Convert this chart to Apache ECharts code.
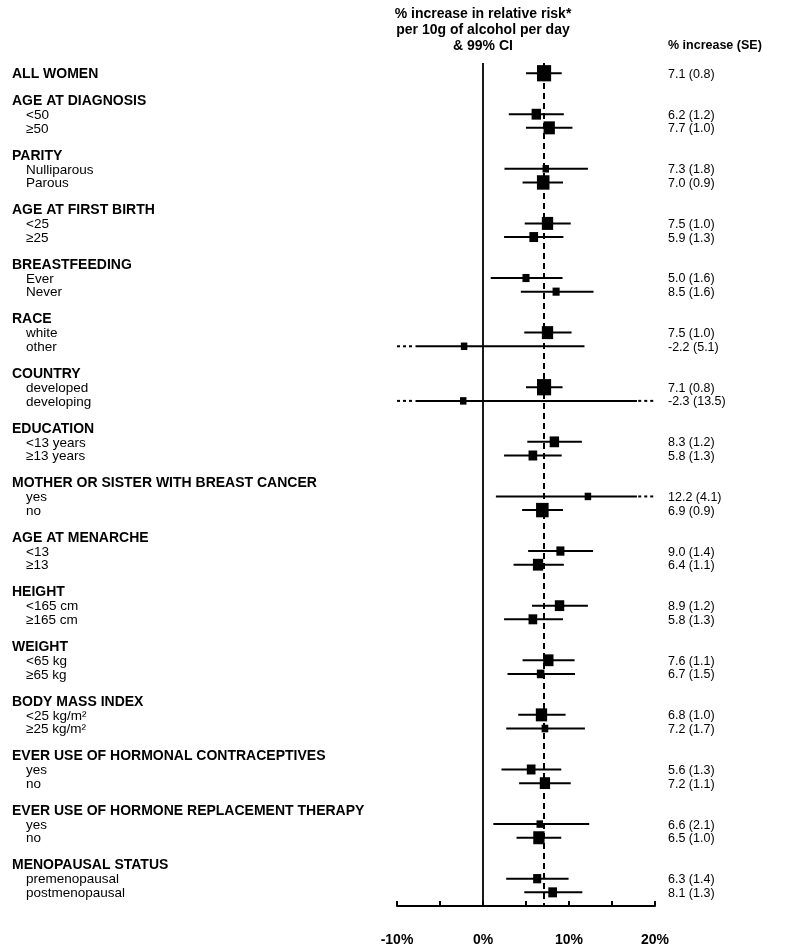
<!DOCTYPE html>
<html><head><meta charset="utf-8">
<script src="https://cdn.jsdelivr.net/npm/echarts@6/dist/echarts.min.js"></script>
<style>html,body{margin:0;padding:0;background:#fff}#c{width:788px;height:947px}</style>
</head><body><div id="c"></div>
<script>
const overallLabel = 'ALL WOMEN';
const groupNames = ['AGE AT DIAGNOSIS','PARITY','AGE AT FIRST BIRTH','BREASTFEEDING','RACE','COUNTRY','EDUCATION','MOTHER OR SISTER WITH BREAST CANCER','AGE AT MENARCHE','HEIGHT','WEIGHT','BODY MASS INDEX','EVER USE OF HORMONAL CONTRACEPTIVES','EVER USE OF HORMONE REPLACEMENT THERAPY','MENOPAUSAL STATUS'];
const subLabels = [['<50','≥50'],['Nulliparous','Parous'],['<25','≥25'],['Ever','Never'],['white','other'],['developed','developing'],['<13 years','≥13 years'],['yes','no'],['<13','≥13'],['<165 cm','≥165 cm'],['<65 kg','≥65 kg'],['<25 kg/m²','≥25 kg/m²'],['yes','no'],['yes','no'],['premenopausal','postmenopausal']];
// first entry = ALL WOMEN, then the sub-rows in order
const estimates = [7.1, 6.2,7.7, 7.3,7.0, 7.5,5.9, 5.0,8.5, 7.5,-2.2, 7.1,-2.3, 8.3,5.8, 12.2,6.9, 9.0,6.4, 8.9,5.8, 7.6,6.7, 6.8,7.2, 5.6,7.2, 6.6,6.5, 6.3,8.1];
const standardErrors = [0.8, 1.2,1.0, 1.8,0.9, 1.0,1.3, 1.6,1.6, 1.0,5.1, 0.8,13.5, 1.2,1.3, 4.1,0.9, 1.4,1.1, 1.2,1.3, 1.1,1.5, 1.0,1.7, 1.3,1.1, 2.1,1.0, 1.4,1.3];
const ciLow  = [5.0, 3.0,5.0, 2.5,4.6, 4.85,2.45, 0.9,4.4, 4.8,-15.3, 5.0,-37.0, 5.15,2.45, 1.5,4.55, 5.25,3.55, 5.7,2.45, 4.6,2.85, 4.1,2.7, 2.15,4.2, 1.2,3.9, 2.7,4.8];
const ciHigh = [9.15, 9.4,10.4, 12.2,9.3, 10.2,9.35, 9.25,12.85, 10.3,11.8, 9.25,32.5, 11.5,9.15, 22.8,9.3, 12.8,9.4, 12.2,9.3, 10.65,10.7, 9.6,11.85, 9.1,10.2, 12.35,9.1, 9.95,11.55];
const xTickValues = [-10,-5,0,5,10,15,20];
const xTickLabels = ['-10%','','0%','','10%','','20%'];
const titleLines = ['% increase in relative risk*','per 10g of alcohol per day','& 99% CI'];
const columnHeader = '% increase (SE)';

const X_MIN = -10, X_MAX = 20;
const FONT = "'Liberation Sans', Arial, Helvetica, sans-serif";

// build row structure
const rows = [];
rows.push({row:0, label:overallLabel, type:'header', d:0});
let di = 1;
groupNames.forEach((g, gi) => {
  const base = 2 + 4 * gi;
  rows.push({row:base, label:g, type:'header', d:-1});
  subLabels[gi].forEach((s, si) => rows.push({row:base + 1 + si, label:s, type:'sub', d:di++}));
});
const dataRows = rows.filter(r => r.d >= 0);

const chart = echarts.init(document.getElementById('c'), null, {renderer:'canvas'});

function ciRender(params, api) {
  const lo = api.value(0), hi = api.value(1), y = api.value(2);
  const children = [];
  const sLo = lo < X_MIN ? X_MIN + 2.15 : lo;
  const sHi = hi > X_MAX ? X_MAX - 2.1 : hi;
  const p1 = api.coord([sLo, y]), p2 = api.coord([sHi, y]);
  children.push({type:'line', shape:{x1:p1[0], y1:p1[1], x2:p2[0], y2:p2[1]}, style:{stroke:'#000', lineWidth:2}});
  if (lo < X_MIN) {
    const a = api.coord([X_MIN, y]), b = api.coord([X_MIN + 1.95, y]);
    children.push({type:'line', shape:{x1:a[0], y1:a[1], x2:b[0], y2:b[1]}, style:{stroke:'#000', lineWidth:2, lineDash:[3,3]}});
  }
  if (hi > X_MAX) {
    const a = api.coord([X_MAX - 1.95, y]), b = api.coord([X_MAX, y]);
    children.push({type:'line', shape:{x1:a[0], y1:a[1], x2:b[0], y2:b[1]}, style:{stroke:'#000', lineWidth:2, lineDash:[3,3]}});
  }
  return {type:'group', children};
}

function labelRender(params, api) {
  const r = rows[params.dataIndex];
  const p = api.coord([X_MIN, r.row]);
  const isHeader = r.type === 'header';
  return {type:'text', style:{
    x: isHeader ? 12 : 26, y: p[1] + (isHeader ? 0.5 : 1),
    text: r.label, fill:'#000',
    font: (isHeader ? 'bold 14px ' : '13.5px ') + FONT,
    align:'left', verticalAlign:'middle'
  }};
}

function valueRender(params, api) {
  const r = dataRows[params.dataIndex];
  const p = api.coord([X_MIN, r.row]);
  return {type:'text', style:{
    x: 668, y: p[1] + 1,
    text: estimates[r.d].toFixed(1) + ' (' + standardErrors[r.d].toFixed(1) + ')',
    fill:'#000', font:'12.5px ' + FONT, align:'left', verticalAlign:'middle'
  }};
}

const option = {
  animation:false,
  backgroundColor:'#fff',
  grid:{left:397, right:133, top:63, bottom:41, containLabel:false},
  xAxis:{
    type:'value', min:X_MIN, max:X_MAX, interval:5,
    splitLine:{show:false},
    axisLine:{onZero:false, lineStyle:{color:'#000', width:2}},
    axisTick:{inside:true, length:5, lineStyle:{color:'#000', width:2}},
    axisLabel:{
      margin:27, color:'#000', fontSize:14, fontWeight:'bold', fontFamily:FONT,
      formatter: v => { const i = xTickValues.indexOf(v); return i >= 0 ? xTickLabels[i] : ''; }
    }
  },
  yAxis:{type:'value', inverse:true, min:-0.75, max:61, show:false},
  graphic:[
    ...titleLines.map((t, i) => ({type:'text', style:{x:483, y:14 + i * 16, text:t, fill:'#000', font:'bold 14px ' + FONT, align:'center', verticalAlign:'middle'}})),
    {type:'text', style:{x:668, y:46, text:columnHeader, fill:'#000', font:'bold 12.5px ' + FONT, align:'left', verticalAlign:'middle'}}
  ],
  series:[
    {
      type:'custom', name:'ci', renderItem:ciRender, clip:false, z:2,
      data: dataRows.map(r => [ciLow[r.d], ciHigh[r.d], r.row]),
      markLine:{
        silent:true, symbol:['none','none'], label:{show:false},
        data:[
          {xAxis:0, lineStyle:{color:'#000', width:1.8, type:'solid'}},
          {xAxis:estimates[0], lineStyle:{color:'#000', width:2, type:[6,4]}}
        ]
      }
    },
    {
      type:'scatter', name:'estimate', symbol:'rect', z:3,
      itemStyle:{color:'#000', opacity:1},
      emphasis:{disabled:true},
      data: dataRows.map(r => {
        const s = Math.max(6.5, 11.3 / standardErrors[r.d]);
        return {value:[estimates[r.d], r.row], symbolSize:[s, s * 1.15]};
      })
    },
    {
      type:'custom', name:'labels', renderItem:labelRender, clip:false, silent:true,
      data: rows.map(r => [X_MIN, r.row])
    },
    {
      type:'custom', name:'values', renderItem:valueRender, clip:false, silent:true,
      data: dataRows.map(r => [X_MIN, r.row])
    }
  ]
};
chart.setOption(option);
</script>
</body></html>
